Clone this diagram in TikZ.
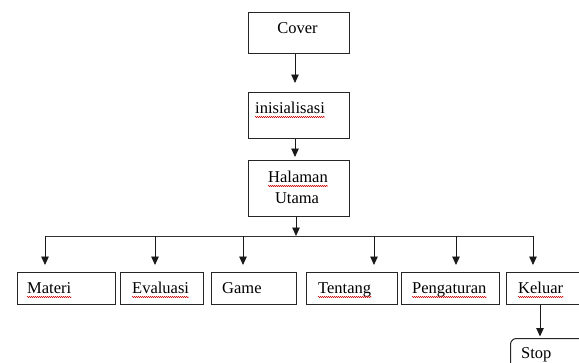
\documentclass[tikz,border=0pt]{standalone}
\usepackage{fontspec}
\setmainfont{Liberation Serif}
\usetikzlibrary{arrows.meta,calc,decorations.pathmorphing}
\begin{document}
\begin{tikzpicture}[x=1pt,y=-1pt,
  box/.style={draw=black!85,line width=1pt,anchor=north west,inner sep=0,minimum height=32pt},
  txt/.style={inner sep=0,font=\fontsize{16.5}{20}\selectfont},
  arr/.style={draw=black!90,line width=0.9pt,-{Triangle[width=7.5pt,length=8.5pt]}},
  link/.style={draw=black!80,line width=1pt},
  squig/.style={draw=red!80!black,line width=0.5pt,decorate,decoration={snake,segment length=2pt,amplitude=0.6pt}}]
\useasboundingbox (0,0) rectangle (579,362);
\clip (0,0) rectangle (579,362);
% boxes
\node[box,minimum width=101pt,minimum height=41pt] (cover) at (248,12) {};
\node[box,minimum width=101pt,minimum height=46pt] (inis) at (248,92) {};
\node[box,minimum width=101pt,minimum height=56pt] (hal) at (248,160) {};
\node[box,minimum width=98pt] (materi) at (17,272) {};
\node[box,minimum width=83pt] (eval) at (120,272) {};
\node[box,minimum width=85pt] (game) at (211,272) {};
\node[box,minimum width=91pt] (tentang) at (306,272) {};
\node[box,minimum width=98pt] (peng) at (401,272) {};
\node[box,minimum width=80pt] (keluar) at (506,272) {};
\node[box,minimum width=80pt,minimum height=40pt,rounded corners=6pt] (stop) at (510,338) {};
% texts
\node[txt,anchor=base] (coverT) at (297.5,33) {Cover};
\node[txt,anchor=base west] (inisT) at (255,113) {inisialisasi};
\node[txt,anchor=base] (halT) at (298,182) {Halaman};
\node[txt,anchor=base] (utaT) at (297,203) {Utama};
\node[txt,anchor=base west] (materiT) at (27,293) {Materi};
\node[txt,anchor=base west] (evalT) at (132,293) {Evaluasi};
\node[txt,anchor=base west] (gameT) at (222,293) {Game};
\node[txt,anchor=base west] (tentangT) at (318,293) {Tentang};
\node[txt,anchor=base west] (pengT) at (412,293) {Pengaturan};
\node[txt,anchor=base west] (keluarT) at (518,293) {Keluar};
\node[txt,anchor=base west] (stopT) at (521,358) {Stop};
% spell-check squiggles
\foreach \t in {inisT,halT,materiT,evalT,tentangT,pengT,keluarT}
  \draw[squig] ($(\t.base west)+(0,4)$) -- ($(\t.base east)+(0,4)$);
% bus coordinates
\coordinate (busL) at (45,236);
\coordinate (busR) at (533,236);
\coordinate (c1) at (295,0);
\coordinate (c2) at (296,0);
\coordinate (d1) at (45,236);
\coordinate (d2) at (155,236);
\coordinate (d3) at (243,236);
\coordinate (d4) at (374,236);
\coordinate (d5) at (456,236);
\coordinate (d6) at (533,236);
\coordinate (k1) at (540,0);
% connectors
\draw[arr] (cover.south -| c1) -- ($(inis.north -| c1)+(0,-9)$);
\draw[arr] (inis.south -| c1) -- ($(hal.north -| c1)+(0,-3)$);
\draw[arr] (hal.south -| c2) -- (busL -| c2);
\draw[link] (busL) -- (busR);
\draw[arr] (d1) -- ($(d1 |- materi.north)+(0,-7)$);
\draw[arr] (d2) -- ($(d2 |- eval.north)+(0,-7)$);
\draw[arr] (d3) -- ($(d3 |- game.north)+(0,-7)$);
\draw[arr] (d4) -- ($(d4 |- tentang.north)+(0,-7)$);
\draw[arr] (d5) -- ($(d5 |- peng.north)+(0,-7)$);
\draw[arr] (d6) -- ($(d6 |- keluar.north)+(0,-7)$);
\draw[arr] (keluar.south -| k1) -- ($(stop.north -| k1)+(0,-1.5)$);
\end{tikzpicture}
\end{document}
